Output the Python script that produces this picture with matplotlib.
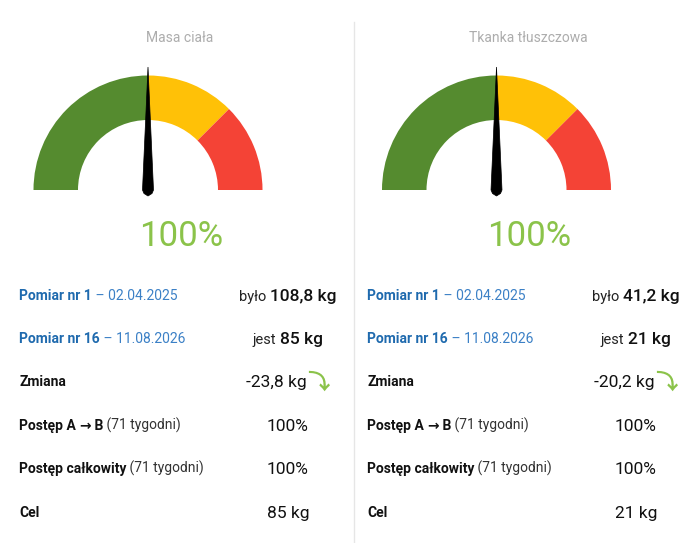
import matplotlib
matplotlib.use("Agg")
import numpy as np
from matplotlib import pyplot as plt
from matplotlib.patches import Wedge, Polygon

plt.rcParams['font.family'] = ['Roboto', 'DejaVu Sans']

# dane
tytuly = ["Masa ciała", "Tkanka tłuszczowa"]
progi = [0, 50, 75, 100]          # granice stref wskaznika
kolory_stref = ["#558b2f", "#ffc107", "#f44336"]
wskazanie = [50, 50]              # pozycja wskazowki na skali 0-100
procent = ["100%", "100%"]
pomiar1 = ["02.04.2025", "02.04.2025"]
pomiar2 = ["11.08.2026", "11.08.2026"]
nr1 = [1, 1]
nr2 = [16, 16]
bylo = ["108,8 kg", "41,2 kg"]
jest = ["85 kg", "21 kg"]
zmiana = ["-23,8 kg", "-20,2 kg"]
postep_ab = ["100%", "100%"]
postep_calk = ["100%", "100%"]
cel = ["85 kg", "21 kg"]
tygodnie = 71

W, H = 692, 543
fig = plt.figure(figsize=(W / 100, H / 100), dpi=100)
ax = fig.add_axes([0, 0, 1, 1])
ax.set_xlim(0, W)
ax.set_ylim(H, 0)
ax.axis("off")
renderer = fig.canvas.get_renderer()

BLUE = "#1f6aae"
BLUE_L = "#3b80c6"
LAB = 10      # rozmiar etykiet
VAL = 12.5    # rozmiar wartosci


def szer(txt, size, weight):
    t = ax.text(0, 0, txt, fontsize=size, fontweight=weight)
    w = t.get_window_extent(renderer).width
    t.remove()
    return w


def rich(x, y, parts, ha="left"):
    widths = [szer(p[0], p[1], p[2]) for p in parts]
    total = sum(widths)
    if ha == "center":
        x = x - total / 2
    for (txt, size, weight, col), w in zip(parts, widths):
        ax.text(x, y, txt, fontsize=size, fontweight=weight, color=col,
                va="baseline", ha="left")
        x += w


# linia podzialu
ax.plot([353.5, 353.5], [22, H], color="#e6e6e6", lw=1)

panele = [(0, 148), (348, 496.5)]
for i, (x0, cx) in enumerate(panele):
    pc = x0 + 180
    ax.text(pc, 38, tytuly[i], fontsize=10, color="#adadad", ha="center", va="center")

    cy = 190
    r_out, r_in = 114.5, 70
    # os y jest odwrocona, wiec gorna polowka to katy od -180 do 0
    for k in range(3):
        a1 = -180 + progi[k] * 1.8
        a2 = -180 + progi[k + 1] * 1.8
        ax.add_patch(Wedge((cx, cy), r_out, a1, a2, width=r_out - r_in,
                           facecolor=kolory_stref[k], edgecolor="none"))

    # wskazowka
    ang = np.radians(-180 + wskazanie[i] * 1.8)
    ux, uy = np.cos(ang), np.sin(ang)
    px, py = -uy, ux
    tip = (cx + ux * 123, cy + uy * 123)
    pts = [tip,
           (cx + px * 5.5, cy + py * 5.5),
           (cx + px * 4 - ux * 3.5, cy + py * 4 - uy * 3.5),
           (cx - ux * 6, cy - uy * 6),
           (cx - px * 4 - ux * 3.5, cy - py * 4 - uy * 3.5),
           (cx - px * 5.5, cy - py * 5.5)]
    ax.add_patch(Polygon(pts, closed=True, facecolor="black",
                         edgecolor="black", lw=0.5))

    ax.text(pc + 1, 237, procent[i], fontsize=25, color="#8bc34a", ha="center", va="center")

    lx = x0 + 19
    vx = x0 + 288
    rich(lx, 300, [(f"Pomiar nr {nr1[i]}", LAB, "bold", BLUE),
                   (f" – {pomiar1[i]}", LAB, "normal", BLUE_L)])
    rich(vx, 301, [("było ", 10.5, "normal", "#222222"),
                   (bylo[i], 12.5, "medium", "#111111")], ha="center")

    rich(lx, 343, [(f"Pomiar nr {nr2[i]}", LAB, "bold", BLUE),
                   (f" – {pomiar2[i]}", LAB, "normal", BLUE_L)])
    rich(vx, 344, [("jest ", 10.5, "normal", "#222222"),
                   (jest[i], 12.5, "medium", "#111111")], ha="center")

    rich(lx, 386, [("Zmiana", LAB, "bold", "#111111")])
    rich(vx - 12, 387, [(zmiana[i], VAL, "normal", "#111111")], ha="center")
    ax.text(vx + 30, 382, "⤵", fontsize=16, fontweight="bold", color="#8bc34a",
            ha="center", va="center",
            family=["Noto Sans CJK SC", "Noto Sans", "DejaVu Sans"])

    rich(lx, 430, [("Postęp A ", LAB, "bold", "#111111"),
                   ("→", LAB, "bold", "#111111"),
                   (" B", LAB, "bold", "#111111"),
                   (f" ({tygodnie} tygodni)", LAB, "normal", "#333333")])
    rich(vx, 431, [(postep_ab[i], VAL, "normal", "#111111")], ha="center")

    rich(lx, 473, [("Postęp całkowity", LAB, "bold", "#111111"),
                   (f" ({tygodnie} tygodni)", LAB, "normal", "#333333")])
    rich(vx, 474, [(postep_calk[i], VAL, "normal", "#111111")], ha="center")

    rich(lx, 517, [("Cel", LAB, "bold", "#111111")])
    rich(vx, 518, [(cel[i], VAL, "normal", "#111111")], ha="center")

fig.savefig("out.png", dpi=100, facecolor="white")
